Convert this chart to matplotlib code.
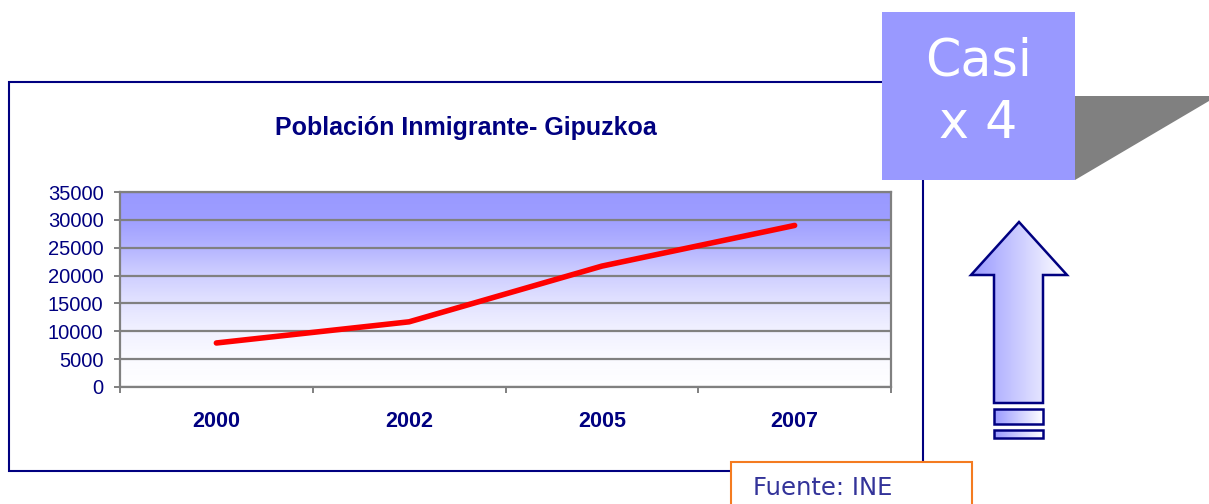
import matplotlib
matplotlib.use("Agg")
import matplotlib.pyplot as plt
import numpy as np
from matplotlib import font_manager
from matplotlib.patches import Rectangle, Polygon
from matplotlib.colors import LinearSegmentedColormap

# ---- data ----
years = ["2000", "2002", "2005", "2007"]
poblacion = [7900, 11700, 21700, 29000]
yticks = [0, 5000, 10000, 15000, 20000, 25000, 30000, 35000]
title = "Población Inmigrante- Gipuzkoa"
badge_lines = ["Casi", "x 4"]
source = "Fuente: INE"

W, H = 1209, 504
names = {f.name for f in font_manager.fontManager.ttflist}
narrow = "Liberation Sans Narrow" if "Liberation Sans Narrow" in names else "Liberation Sans"
NAVY = "#000080"
GRID = "#808080"

fig = plt.figure(figsize=(W / 100, H / 100), dpi=100)
fig.patch.set_facecolor("white")

# ---- chart axes ----
L, R, T, B = 120, 891, 192, 387
ax = fig.add_axes([L / W, 1 - B / H, (R - L) / W, (B - T) / H])
ax.set_xlim(-0.5, len(years) - 0.5)
ax.set_ylim(0, 35000)

bg_cmap = LinearSegmentedColormap.from_list(
    "bg",
    [(0.0, "#FFFFFF"), (0.15, "#FAFAFF"), (0.30, "#F0F0FF"), (0.45, "#E0E0FF"),
     (0.60, "#CACAFF"), (0.75, "#AEAEFF"), (0.87, "#9D9DFF"), (1.0, "#9999FF")])
grad = np.linspace(0, 1, 256).reshape(-1, 1)
ax.imshow(grad, cmap=bg_cmap, origin="lower", aspect="auto",
          extent=[-0.5, len(years) - 0.5, 0, 35000], zorder=0)

ax.set_yticks(yticks)
ax.yaxis.grid(True, color=GRID, lw=1.6, zorder=1)
ax.set_axisbelow(False)
for s in ax.spines.values():
    s.set_color(GRID)
    s.set_linewidth(1.6)

ax.plot(range(len(years)), poblacion, color="#FF0000", lw=4.0,
        solid_capstyle="round", solid_joinstyle="round", zorder=3)

ax.tick_params(axis="y", direction="out", length=4.3, width=1.4, color=GRID,
               labelcolor=NAVY, labelsize=14.5, pad=7.5)
for lab in ax.get_yticklabels():
    lab.set_fontfamily("Liberation Sans")

ax.set_xticks(np.arange(-0.5, len(years), 1.0))
ax.set_xticklabels([])
ax.tick_params(axis="x", which="major", direction="out", length=4.3, width=1.4, color=GRID)
ax.set_xticks(range(len(years)), labels=years, minor=True)
ax.tick_params(axis="x", which="minor", length=0, pad=17, labelcolor=NAVY, labelsize=15.5)
for lab in ax.get_xticklabels(minor=True):
    lab.set_fontfamily(narrow)
    lab.set_fontweight("bold")

# ---- overlay for decorations ----
ov = fig.add_axes([0, 0, 1, 1])
ov.set_xlim(0, W)
ov.set_ylim(H, 0)
ov.axis("off")
ov.patch.set_alpha(0)

# chart border
ov.add_patch(Rectangle((9, 82), 914, 389, fc="none", ec=NAVY, lw=1.5, zorder=1))

ov.text(466, 128, title, ha="center", va="center", fontsize=18, fontweight="bold",
        color=NAVY, family="Liberation Sans", zorder=2)

# badge shadow and badge
ov.add_patch(Polygon([(1075, 96), (1209, 96), (1209, 101), (1075, 180)],
                     closed=True, fc="#808080", ec="none", zorder=3))
ov.add_patch(Rectangle((882, 12), 193, 168, fc="#9999FF", ec="none", zorder=4))
ov.text(978.5, 75, badge_lines[0], ha="center", va="baseline", color="white",
        fontsize=36.5, family="DejaVu Sans", zorder=5)
ov.text(978, 138, badge_lines[1], ha="center", va="baseline", color="white",
        fontsize=36.5, family="DejaVu Sans", zorder=5)

# arrow with gradient
arr_cmap = LinearSegmentedColormap.from_list("arr", ["#9999FF", "#FFFFFF"])
hgrad = np.linspace(0, 1, 256).reshape(1, -1)


def grad_patch(patch, x0, x1, y0, y1):
    ov.add_patch(patch)
    im = ov.imshow(hgrad, cmap=arr_cmap, aspect="auto", extent=[x0, x1, y1, y0], zorder=5)
    im.set_clip_path(patch)
    ov.add_patch(Polygon(patch.get_xy(), closed=True, fc="none", ec=NAVY, lw=1.8,
                         joinstyle="miter", zorder=6))


arrow = Polygon([(1019, 222), (1067, 275), (1043, 275), (1043, 403), (994, 403),
                 (994, 275), (971, 275)], closed=True, fc="none", ec="none")
grad_patch(arrow, 971, 1067, 222, 403)
bar1 = Polygon([(994, 409), (1043, 409), (1043, 424), (994, 424)], closed=True, fc="none", ec="none")
grad_patch(bar1, 994, 1043, 409, 424)
bar2 = Polygon([(994, 430), (1043, 430), (1043, 438), (994, 438)], closed=True, fc="none", ec="none")
grad_patch(bar2, 994, 1043, 430, 438)

# source box
ov.add_patch(Rectangle((731, 462), 241, 60, fc="white", ec="#F47B20", lw=1.5, zorder=7))
ov.text(753, 495, source, ha="left", va="baseline", color="#333399",
        fontsize=17.5, family="DejaVu Sans", zorder=8)

fig.savefig("out.png", dpi=100)
